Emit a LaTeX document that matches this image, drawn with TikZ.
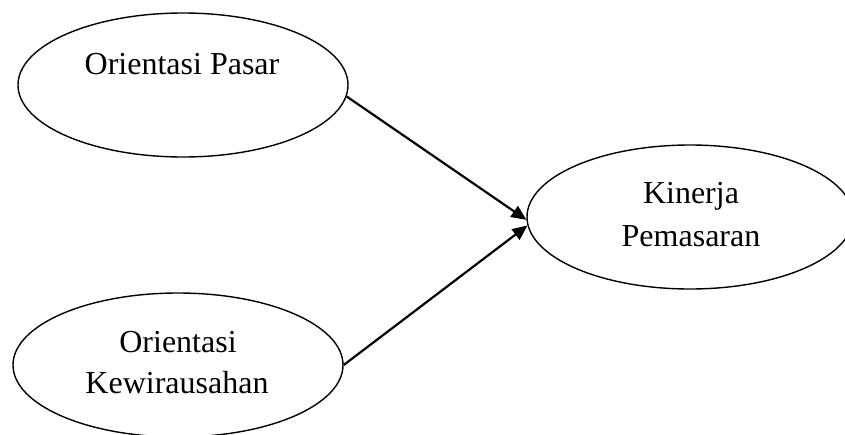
\documentclass[tikz,border=0pt]{standalone}
\usepackage{fontspec}
\setmainfont{Liberation Serif}
\usetikzlibrary{shapes.geometric,arrows.meta}

\begin{document}
\begin{tikzpicture}[x=1pt,y=-1pt,
  construct/.style={ellipse,draw,line width=1.4pt,inner sep=0pt,
    minimum width=330pt,minimum height=144pt},
  lbl/.style={anchor=base,inner sep=0pt,font=\fontsize{32}{42}\selectfont},
  path/.style={line width=2.2pt,-{Triangle[length=15pt,width=13pt]}}]
  \useasboundingbox (0,0) rectangle (845,434);
  \clip (0,0) rectangle (845,434);

  % latent constructs
  \node[construct] (pasar) at (183,85) {};
  \node[construct,minimum width=326pt] (kinerja) at (690,217) {};
  \node[construct] (wirausaha) at (178,365) {};

  % construct names
  \node[lbl] (tp) at (182,74) {Orientasi Pasar};
  \node[lbl] (tk1) at (691,203) {Kinerja};
  \node[lbl] (tk2) at (691,246) {Pemasaran};
  \node[lbl] (tw1) at (178,352) {Orientasi};
  \node[lbl] (tw2) at (177,393) {Kewirausahan};

  % hypothesised paths
  \draw[path] (pasar.-4) -- (kinerja.181);
  \draw[path] (wirausaha.0) -- (kinerja.183);
\end{tikzpicture}
\end{document}
